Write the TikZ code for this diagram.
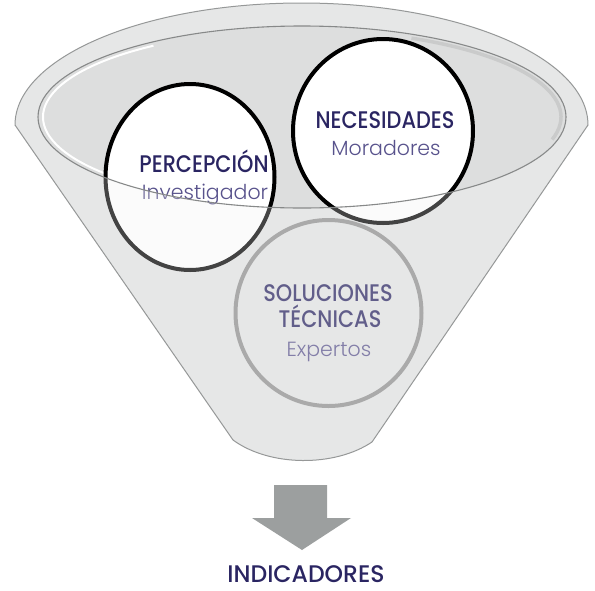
\documentclass[tikz,border=0pt]{standalone}
\usepackage{fontspec}
\usepackage{graphicx}
\setmainfont{Poppins}
\IfFontExistsTF{Poppins Medium}{\newfontfamily\medfont{Poppins Medium}}{\newfontfamily\medfont{Poppins}[FakeBold=1.2]}
\IfFontExistsTF{Poppins Light}{\newfontfamily\lightfont{Poppins Light}}{\newfontfamily\lightfont{Poppins}}
\usetikzlibrary{shapes.geometric}
\definecolor{fbase}{RGB}{226,227,227}
\definecolor{finner}{RGB}{221,222,222}
\definecolor{fline}{RGB}{150,152,152}
\definecolor{shadowc}{RGB}{202,203,203}
\definecolor{glassc}{RGB}{243,243,243}
\definecolor{titlec}{RGB}{42,37,98}
\definecolor{subc}{RGB}{88,82,140}
\definecolor{arrowc}{RGB}{156,159,159}
\definecolor{solc}{RGB}{142,143,143}
\newcommand\funnelpth{(15,125) arc[start angle=180, end angle=360, x radius=286.5, y radius=122] -- (372,442) .. controls (335,467) and (270,467) .. (233,440) -- cycle}
\newcommand\innerpth{(302,117) ellipse[x radius=264, y radius=91]}
\newcommand\ttl[1]{\scalebox{0.87}[1]{#1}}
\tikzset{
  blackring/.style={ellipse, draw=black, line width=4pt, fill=white, inner sep=0pt},
  grayring/.style={ellipse, draw=solc, line width=4pt, inner sep=0pt},
  titletext/.style={anchor=base, text=titlec, font=\medfont\fontsize{24}{28}\selectfont, inner sep=0pt},
  subtext/.style={anchor=base, text=subc, font=\lightfont\fontsize{20.5}{24}\selectfont, inner sep=0pt},
}
\begin{document}
\begin{tikzpicture}[x=1pt,y=-1pt]
\useasboundingbox (0,0) rectangle (595,590);
% funnel body
\fill[fbase] \funnelpth;
\fill[finner] \innerpth;
\draw[white, line width=2pt] (302,117) ++(130:259 and 87) arc[start angle=130, end angle=235, x radius=259, y radius=87];
\draw[shadowc, line width=3.5pt] (302,117) ++(295:259 and 87) arc[start angle=295, end angle=375, x radius=259, y radius=87];
% rings
\node[grayring, minimum width=186pt, minimum height=186pt] (sol) at (328.5,313) {};
\node[blackring, minimum width=169pt, minimum height=186pt] (per) at (190,177) {};
\node[blackring, minimum width=180pt, minimum height=184pt] (nec) at (383,131) {};
% texts
\node[titletext] (pert) at (204,172) {\ttl{PERCEPCIÓN}};
\node[subtext] (pers) at (205,199) {Investigador};
\node[titletext] (nect) at (385,128) {\ttl{NECESIDADES}};
\node[subtext] (necs) at (386,155) {Moradores};
\node[titletext] (solt1) at (328,301) {\ttl{SOLUCIONES}};
\node[titletext] (solt2) at (330,327) {\ttl{TÉCNICAS}};
\node[subtext] (sols) at (329,356) {Expertos};
% translucent front wall
\fill[glassc, opacity=0.28, even odd rule] \funnelpth \innerpth;
\draw[fline, line width=1pt] \funnelpth;
\draw[fline!90!black, line width=1.1pt] \innerpth;
% arrow
\fill[arrowc] (274,485) -- (327,485) -- (327,518) -- (351,518) -- (302,550) -- (252,518) -- (274,518) -- cycle;
\node[titletext] (ind) at (306,582) {\scalebox{0.98}[1]{INDICADORES}};
\end{tikzpicture}
\end{document}
